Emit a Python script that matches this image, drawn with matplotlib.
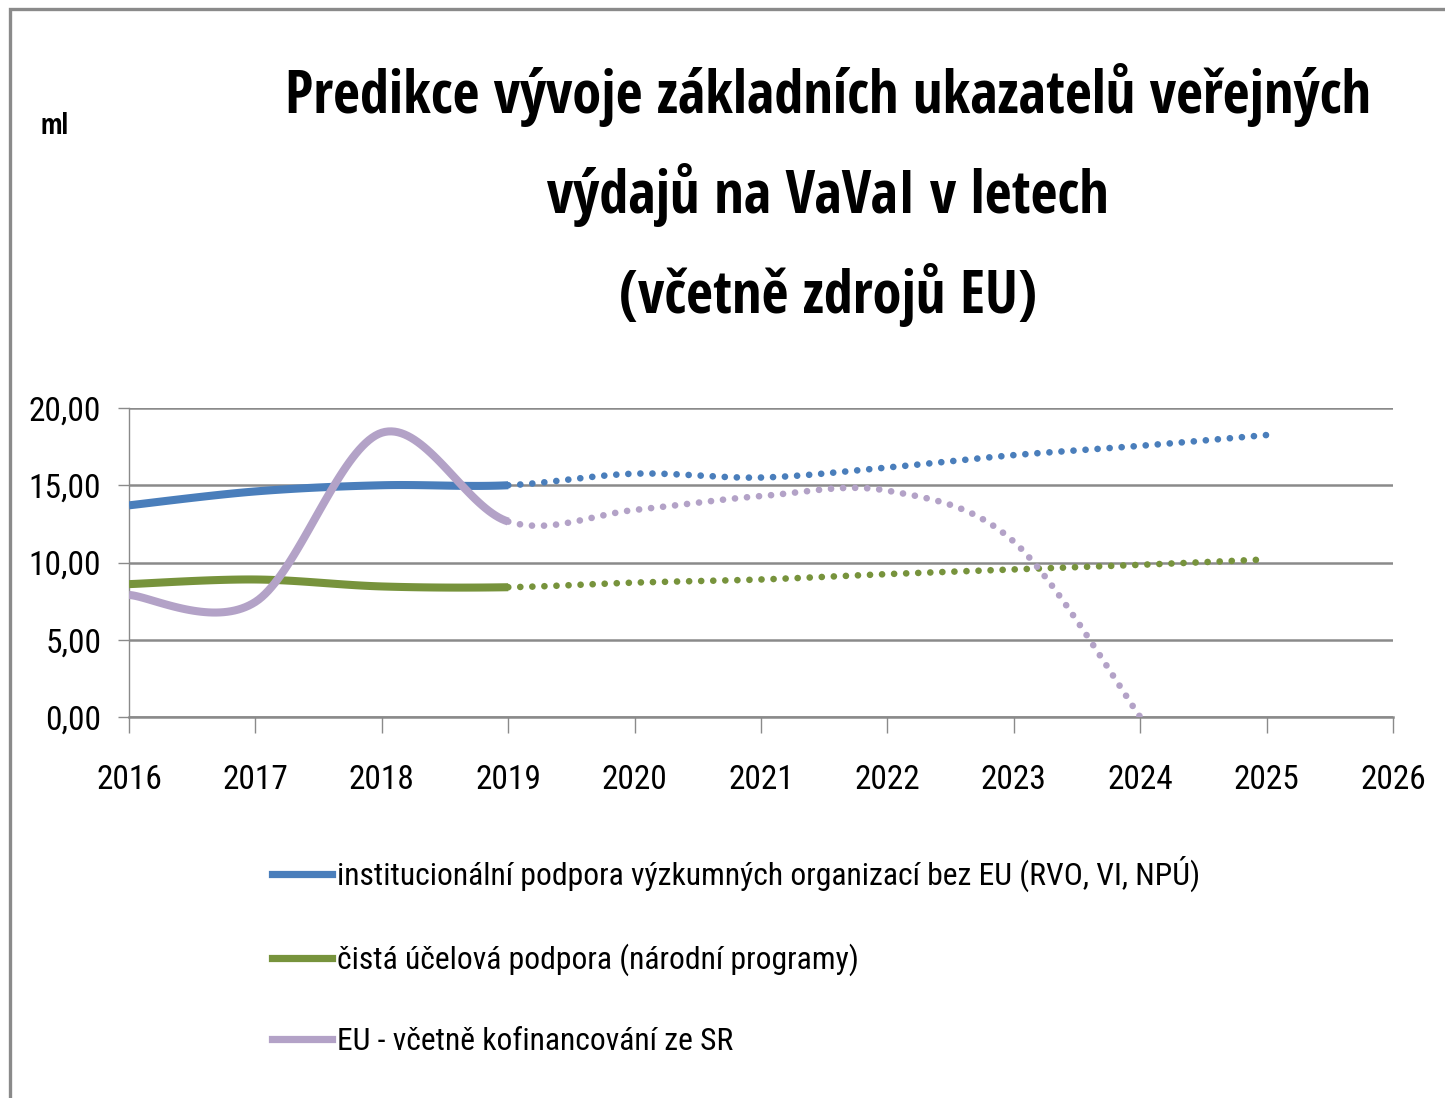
import matplotlib
matplotlib.use("Agg")
import matplotlib.pyplot as plt
import numpy as np
from matplotlib.patches import Rectangle
from matplotlib.lines import Line2D

# --- data (mld. Kč) ---
years = [2016, 2017, 2018, 2019, 2020, 2021, 2022, 2023, 2024, 2025]
inst_support = [13.7, 14.6, 15.0, 15.0, 15.75, 15.5, 16.15, 16.95, 17.55, 18.25]
target_support = [8.6, 8.9, 8.45, 8.4, 8.7, 8.9, 9.25, 9.55, 9.85, 10.2]
eu_support = [7.9, 7.45, 18.4, 12.65, 13.4, 14.3, 14.65, 11.35, 0.0]
last_actual = 2019

series_names = [
    "institucionální podpora výzkumných organizací bez EU (RVO, VI, NPÚ)",
    "čistá účelová podpora (národní programy)",
    "EU - včetně kofinancování ze SR",
]
series_colors = ["#4A7EBB", "#77933C", "#B3A2C7"]
y_ticks = [0, 5, 10, 15, 20]
y_tick_labels = ["0,00", "5,00", "10,00", "15,00", "20,00"]
x_ticks = list(range(2016, 2027))
title_lines = [
    "Predikce vývoje základních ukazatelů veřejných",
    "výdajů na VaVaI v letech",
    "(včetně zdrojů EU)",
]

TEXT_FONT = ["Roboto Condensed", "DejaVu Sans"]
TITLE_FONT = ["Open Sans Condensed", "DejaVu Sans"]
plt.rcParams["font.family"] = TEXT_FONT
GRID = "#8a8a8a"


def excel_smooth(x, y, n=40):
    # Excel-like smoothed line: cubic Bezier with 1/6 neighbour control points
    x = np.asarray(x, float)
    y = np.asarray(y, float)
    px = np.concatenate([[x[0]], x, [x[-1]]])
    py = np.concatenate([[y[0]], y, [y[-1]]])
    xs, ys = [], []
    t = np.linspace(0, 1, n)
    for i in range(len(x) - 1):
        p0x, p0y = px[i + 1], py[i + 1]
        p3x, p3y = px[i + 2], py[i + 2]
        c1x = p0x + (px[i + 2] - px[i]) / 6
        c1y = p0y + (py[i + 2] - py[i]) / 6
        c2x = p3x - (px[i + 3] - px[i + 1]) / 6
        c2y = p3y - (py[i + 3] - py[i + 1]) / 6
        b0 = (1 - t) ** 3
        b1 = 3 * (1 - t) ** 2 * t
        b2 = 3 * (1 - t) * t ** 2
        b3 = t ** 3
        xs.append(b0 * p0x + b1 * c1x + b2 * c2x + b3 * p3x)
        ys.append(b0 * p0y + b1 * c1y + b2 * c2y + b3 * p3y)
    return np.concatenate(xs), np.concatenate(ys)


fig = plt.figure(figsize=(14.45, 10.98), dpi=100)
fig.patches.append(Rectangle((10 / 1445, -0.1), 1.2, 1.1 - 9 / 1098,
                             transform=fig.transFigure, fill=False,
                             edgecolor=GRID, linewidth=2.4, zorder=0))

ax = fig.add_axes([129 / 1445, 1 - 717 / 1098, (1393 - 129) / 1445, (717 - 408) / 1098])

for vals, color in zip([inst_support, target_support, eu_support], series_colors):
    sx, sy = excel_smooth(years[:len(vals)], vals)
    act = sx <= last_actual + 1e-9
    ax.plot(sx[act], sy[act], color=color, lw=5.8, solid_capstyle="butt", zorder=3)
    fc = sx >= last_actual - 1e-9
    ax.plot(sx[fc], sy[fc], color=color, lw=4.8, linestyle=(0, (0.01, 1.8)),
            dash_capstyle="round", zorder=3)

ax.set_xlim(2016, 2026)
ax.set_ylim(0, 20)
ax.set_yticks(y_ticks)
ax.set_yticklabels(y_tick_labels)
ax.set_xticks(x_ticks)
ax.set_xticklabels([str(v) for v in x_ticks])
ax.yaxis.grid(True, color=GRID, linewidth=1.8)
ax.set_axisbelow(True)
for side in ["top", "right"]:
    ax.spines[side].set_visible(False)
ax.spines["left"].set_color(GRID)
ax.spines["left"].set_linewidth(1.0)
ax.spines["bottom"].set_color(GRID)
ax.spines["bottom"].set_linewidth(1.8)
ax.tick_params(axis="y", length=8, width=1.0, color=GRID, labelsize=24, pad=12)
ax.tick_params(axis="x", length=11.5, width=1.0, color=GRID, labelsize=24, pad=22)

# title, sized so that the first line spans the same width as in the original
renderer = fig.canvas.get_renderer()
titles = []
for i, line in enumerate(title_lines):
    titles.append(fig.text(828 / 1445, 1 - (95 + 100 * i) / 1098, line, ha="center",
                           va="center", fontsize=40, fontweight="bold",
                           family=TITLE_FONT))
w = titles[0].get_window_extent(renderer).width
for t in titles:
    t.set_fontsize(40 * 1085 / w)

fig.text(40 / 1445, 1 - 126 / 1098, "ml", ha="left", va="center", fontsize=20,
         fontweight="bold", family=TITLE_FONT)

# legend
handles = [Line2D([0], [0], color=c, lw=5.2) for c in series_colors]
leg = fig.legend(handles, series_names, loc="upper left",
                 bbox_to_anchor=(272 / 1445, 1 - 856 / 1098), frameon=False,
                 fontsize=22.8, handlelength=1.9, handletextpad=0.15,
                 labelspacing=1.62, borderpad=0, borderaxespad=0)

fig.savefig("out.png", dpi=100)
